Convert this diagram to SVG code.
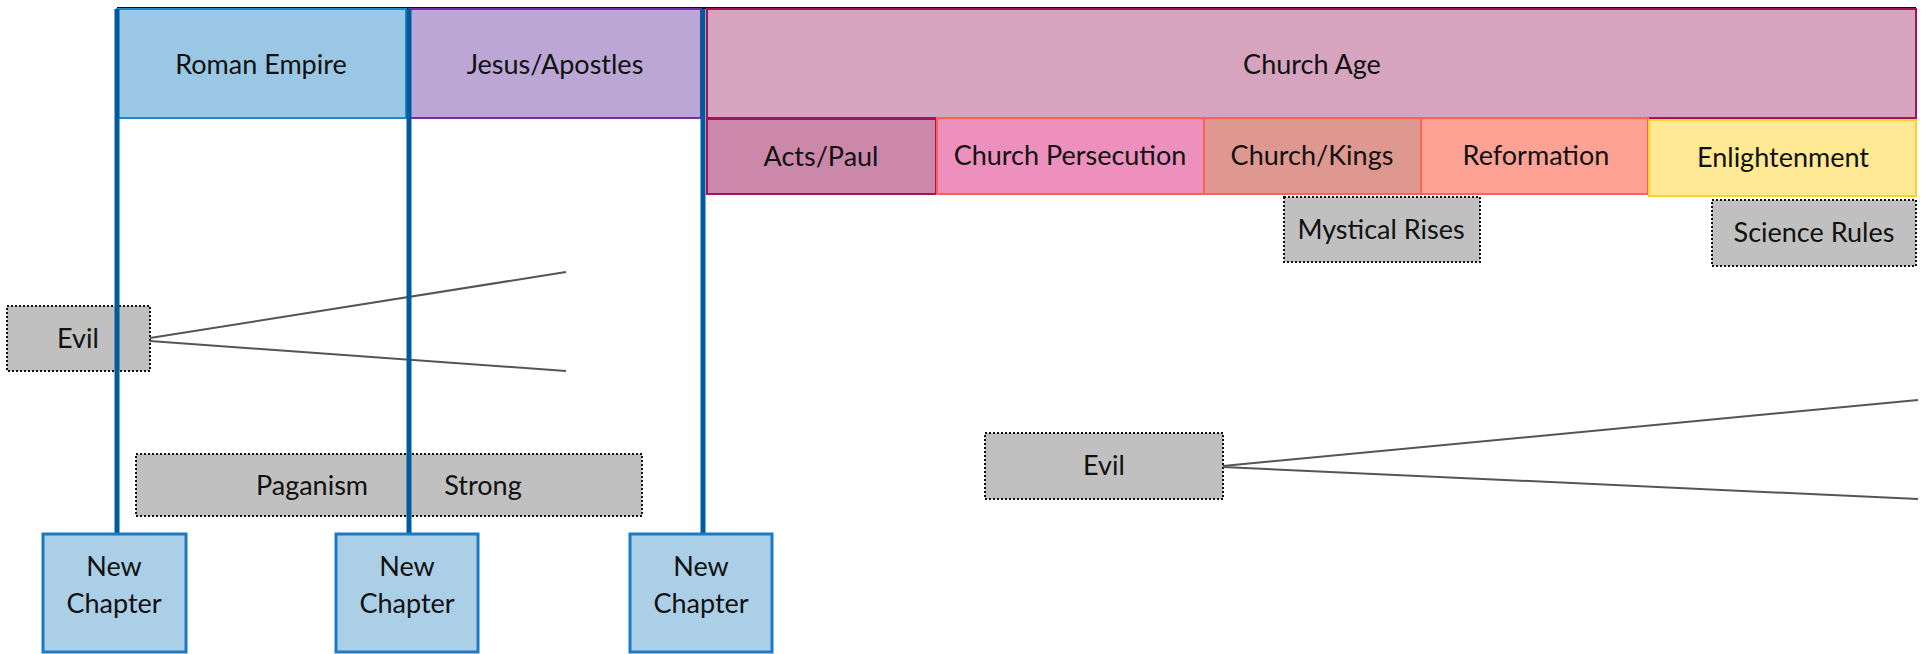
<svg xmlns="http://www.w3.org/2000/svg" width="1928" height="654" viewBox="0 0 1928 654">
<style>
text{font-family:Lato,"Noto Sans","Liberation Sans",sans-serif;font-size:27px;fill:#111;text-anchor:middle}
.gray{fill:#C0C0C0;stroke:#111;stroke-width:2;stroke-dasharray:2 2}
.chap{fill:#ABCFE7;stroke:#1A7BC4;stroke-width:3}
.conn{stroke:#555;stroke-width:2;fill:none}
.vline{stroke:#005A9C;stroke-width:5}
</style>
<rect width="1928" height="654" fill="#fff"/>
<line x1="117" y1="8" x2="1916" y2="8" stroke="#111" stroke-width="2"/>
<g id="roman"><rect x="117" y="9" width="289" height="109" fill="#9AC7E4" stroke="#1E88C8" stroke-width="2"/><text x="261" y="74">Roman Empire</text></g>
<g id="jesus"><rect x="409" y="9" width="292" height="109" fill="#BCA6D5" stroke="#7030A0" stroke-width="2"/><text x="555" y="74">Jesus/Apostles</text></g>
<g id="church-age"><rect x="707" y="9" width="1209" height="109" fill="#D7A4BF" stroke="#A0145A" stroke-width="2"/><text x="1312" y="74">Church Age</text></g>
<g id="acts"><rect x="707" y="119" width="229" height="75" fill="#CC88AA" stroke="#A0145A" stroke-width="2"/><text x="821" y="166">Acts/Paul</text></g>
<g id="persecution"><rect x="937" y="118" width="267" height="76" fill="#EE90BE" stroke="#FF6050" stroke-width="2"/><text x="1070" y="165">Church Persecution</text></g>
<g id="kings"><rect x="1204" y="118" width="217" height="76" fill="#DE9890" stroke="#FF6050" stroke-width="2"/><text x="1312" y="165">Church/Kings</text></g>
<g id="reformation"><rect x="1421" y="118" width="227" height="76" fill="#FFA296" stroke="#FF6050" stroke-width="2"/><text x="1536" y="165">Reformation</text></g>
<g id="enlightenment"><rect x="1649" y="120" width="267" height="76" fill="#FFE994" stroke="#FFD030" stroke-width="2"/><text x="1783" y="167">Enlightenment</text></g>
<g id="mystical"><rect x="1284" y="197" width="196" height="65" class="gray"/><text x="1381" y="239">Mystical Rises</text></g>
<g id="science"><rect x="1712" y="200" width="204" height="66" class="gray"/><text x="1814" y="242">Science Rules</text></g>
<g id="evil1"><rect x="7" y="306" width="143" height="65" class="gray"/><text x="78" y="348">Evil</text></g>
<g id="paganism"><rect x="136" y="454" width="506" height="62" class="gray"/><text x="312" y="495">Paganism</text><text x="483" y="495">Strong</text></g>
<g id="evil2"><rect x="985" y="433" width="238" height="66" class="gray"/><text x="1104" y="475">Evil</text></g>
<g id="connectors">
<line class="conn" x1="150" y1="338" x2="566" y2="272"/>
<line class="conn" x1="150" y1="341" x2="566" y2="371"/>
<line class="conn" x1="1223" y1="466" x2="1918" y2="400"/>
<line class="conn" x1="1223" y1="467" x2="1918" y2="499"/>
<line class="vline" x1="117" y1="9" x2="117" y2="534"/>
<line class="vline" x1="409" y1="9" x2="409" y2="534"/>
<line class="vline" x1="703" y1="9" x2="703" y2="534"/>
</g>
<g id="chapter1"><rect x="43" y="534" width="143" height="118" class="chap"/><text x="114" y="576">New</text><text x="114" y="613">Chapter</text></g>
<g id="chapter2"><rect x="336" y="534" width="142" height="118" class="chap"/><text x="407" y="576">New</text><text x="407" y="613">Chapter</text></g>
<g id="chapter3"><rect x="630" y="534" width="142" height="118" class="chap"/><text x="701" y="576">New</text><text x="701" y="613">Chapter</text></g>
</svg>
